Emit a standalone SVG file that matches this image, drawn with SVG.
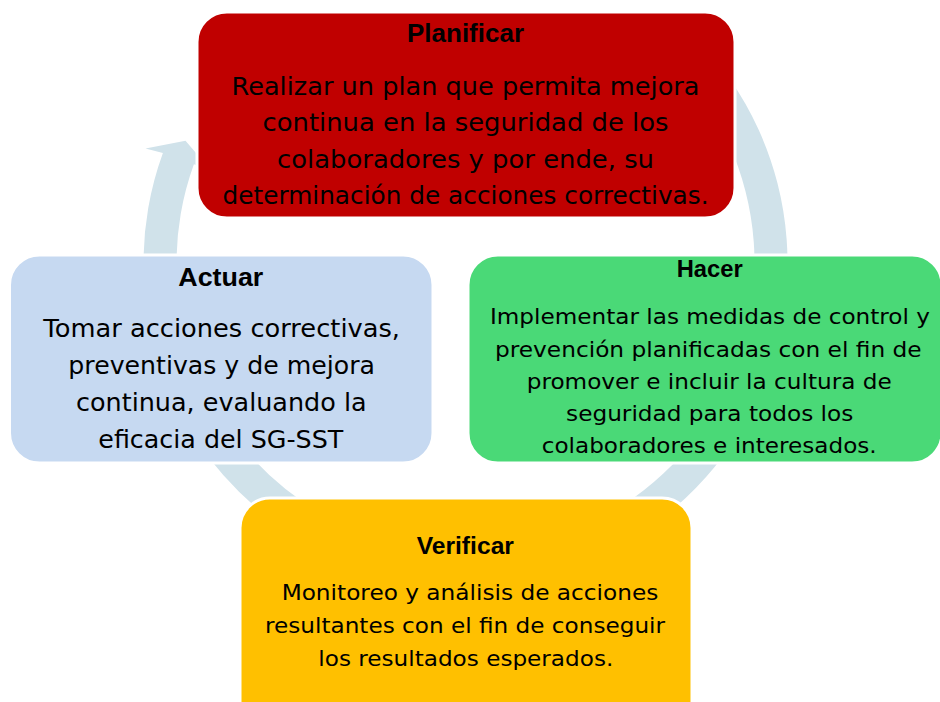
<svg xmlns="http://www.w3.org/2000/svg" width="940" height="702" viewBox="0 0 940 702">
<defs>
<style>
.box{stroke:#ffffff;stroke-width:3}
.ring{fill:#D0E2EA;stroke:none}
.title{font-family:"Liberation Sans",Arial,sans-serif;font-weight:bold;fill:#000;text-anchor:middle}
.body{font-family:"DejaVu Sans",Verdana,sans-serif;fill:#000;text-anchor:middle}
</style>
</defs>
<rect width="940" height="702" fill="#ffffff"/>
<g id="connectors">
<path class="ring" d="M 693.2 35.3 A 322 322 0 1 1 162.9 152.9 L 145.5 148.5 L 185.5 140.7 L 210.8 170.3 L 193.9 164.2 A 289 289 0 1 0 669.9 58.6 Z"/>
</g>
<g id="planificar">
<rect class="box" x="197" y="12" width="538" height="206" rx="30" fill="#C00000"/>
<text class="title" x="465.5" y="42.3" font-size="26.5" textLength="117" lengthAdjust="spacingAndGlyphs">Planificar</text>
<text class="body" font-size="24" x="465.5" y="94.5" textLength="468" lengthAdjust="spacingAndGlyphs">Realizar un plan que permita mejora</text>
<text class="body" font-size="24" x="465.5" y="131" textLength="406" lengthAdjust="spacingAndGlyphs">continua en la seguridad de los</text>
<text class="body" font-size="24" x="465.5" y="167.5" textLength="377" lengthAdjust="spacingAndGlyphs">colaboradores y por ende, su</text>
<text class="body" font-size="24" x="465.5" y="204" textLength="486" lengthAdjust="spacingAndGlyphs">determinación de acciones correctivas.</text>
</g>
<g id="hacer">
<rect class="box" x="468" y="255" width="474" height="208" rx="30" fill="#4AD977"/>
<text class="title" x="709.7" y="277.3" font-size="23.5" textLength="66" lengthAdjust="spacingAndGlyphs">Hacer</text>
<text class="body" font-size="22" x="710" y="324" textLength="440" lengthAdjust="spacingAndGlyphs">Implementar las medidas de control y</text>
<text class="body" font-size="22" x="708.3" y="357.3" textLength="426.7" lengthAdjust="spacingAndGlyphs">prevención planificadas con el fin de</text>
<text class="body" font-size="22" x="709.2" y="389.3" textLength="365" lengthAdjust="spacingAndGlyphs">promover e incluir la cultura de</text>
<text class="body" font-size="22" x="709.7" y="420.5" textLength="287.3" lengthAdjust="spacingAndGlyphs">seguridad para todos los</text>
<text class="body" font-size="22" x="709.2" y="453.3" textLength="335" lengthAdjust="spacingAndGlyphs">colaboradores e interesados.</text>
</g>
<g id="verificar">
<rect class="box" x="240" y="498" width="452" height="240" rx="30" fill="#FFC000"/>
<text class="title" x="465.3" y="554.3" font-size="24.5" textLength="97.3" lengthAdjust="spacingAndGlyphs">Verificar</text>
<text class="body" font-size="22" x="470" y="600" textLength="376.7" lengthAdjust="spacingAndGlyphs">Monitoreo y análisis de acciones</text>
<text class="body" font-size="22" x="465" y="632.7" textLength="400" lengthAdjust="spacingAndGlyphs">resultantes con el fin de conseguir</text>
<text class="body" font-size="22" x="465.8" y="666" textLength="295" lengthAdjust="spacingAndGlyphs">los resultados esperados.</text>
</g>
<g id="actuar">
<rect class="box" x="9.5" y="255" width="423.5" height="208" rx="30" fill="#C6D9F1"/>
<text class="title" x="220.8" y="286" font-size="26.5" textLength="85" lengthAdjust="spacingAndGlyphs">Actuar</text>
<text class="body" font-size="25" x="221.7" y="337.3" textLength="356.7" lengthAdjust="spacingAndGlyphs">Tomar acciones correctivas,</text>
<text class="body" font-size="25" x="221.7" y="374" textLength="306.7" lengthAdjust="spacingAndGlyphs">preventivas y de mejora</text>
<text class="body" font-size="25" x="221.3" y="411" textLength="290.7" lengthAdjust="spacingAndGlyphs">continua, evaluando la</text>
<text class="body" font-size="25" x="220.8" y="447.5" textLength="245" lengthAdjust="spacingAndGlyphs">eficacia del SG-SST</text>
</g>
</svg>
